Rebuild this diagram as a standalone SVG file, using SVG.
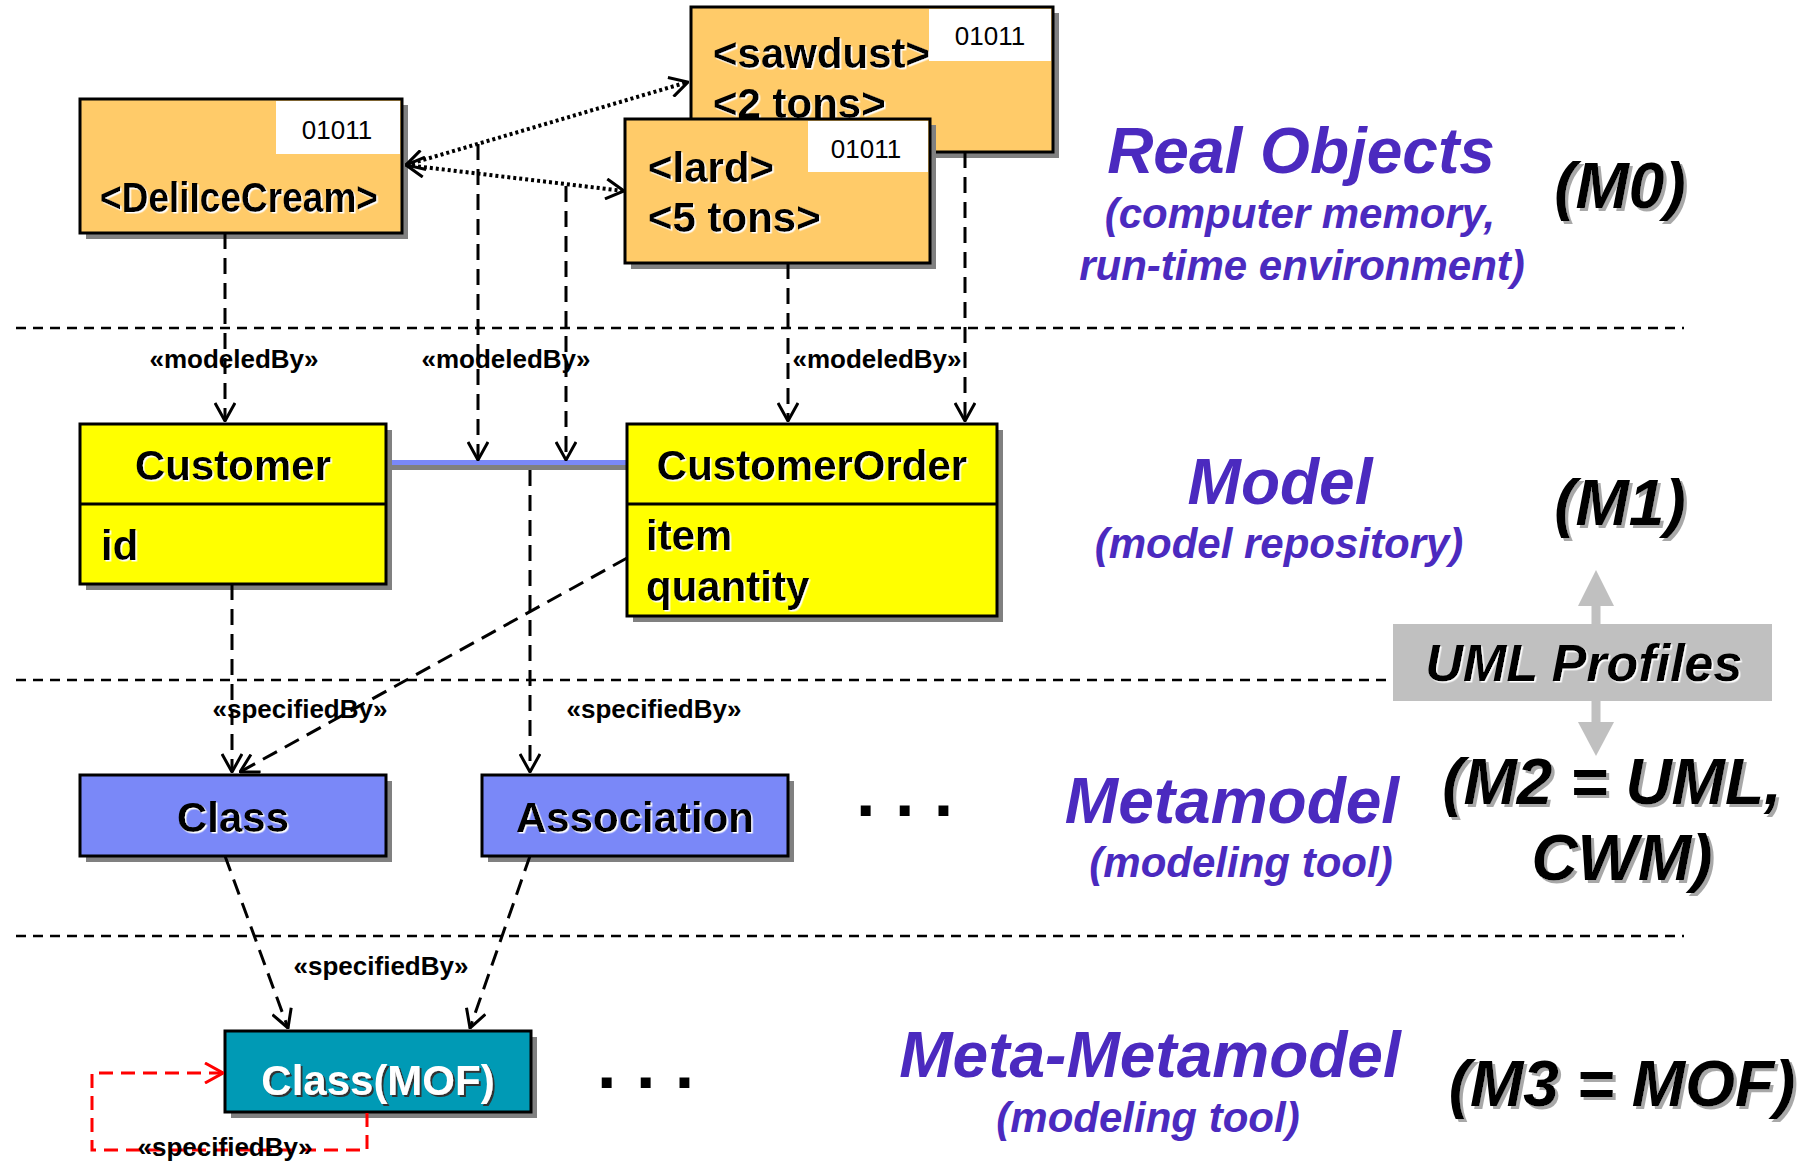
<svg xmlns="http://www.w3.org/2000/svg" width="1810" height="1162" viewBox="0 0 1810 1162">
<style>
  text { font-family: "Liberation Sans", Arial, sans-serif; }
  .b { font-weight: bold; }
  .lbl { font-weight: bold; font-size: 42px; fill: #000; filter: url(#ws); }
  .shadow { fill: #808080; }
  .box { stroke: #000; stroke-width: 3; }
  .orange { fill: #FFCB69; }
  .yellow { fill: #FFFF00; }
  .blue { fill: #7A88F8; }
  .teal { fill: #009AB5; }
  .code { fill: #fff; }
  .codet { font-size: 26px; fill: #000; }
  .ster { font-weight: bold; font-size: 26px; fill: #000; }
  .dash { fill: none; stroke: #000; stroke-width: 3; stroke-dasharray: 16 9; }
  .dot { fill: none; stroke: #000; stroke-width: 4; stroke-dasharray: 3 3; }
  .sep { fill: none; stroke: #000; stroke-width: 2.5; stroke-dasharray: 10 7; }
  .title { font-weight: bold; font-style: italic; font-size: 64px; fill: #4B2ABF; text-anchor: middle; }
  .sub { font-weight: bold; font-style: italic; font-size: 42px; fill: #4B2ABF; text-anchor: middle; }
  .lvl { font-weight: bold; font-style: italic; font-size: 64px; fill: #000; text-anchor: middle; filter: url(#gs); }
  .dots { font-weight: bold; font-size: 70px; fill: #000; }
</style>
<defs>
  <filter id="ws" x="-5%" y="-5%" width="110%" height="120%"><feDropShadow dx="1.5" dy="1.5" stdDeviation="0" flood-color="#ffffff"/></filter>
  <filter id="gs" x="-5%" y="-5%" width="115%" height="120%"><feDropShadow dx="3" dy="3" stdDeviation="0" flood-color="#a8a8a8"/></filter>
  <filter id="ds" x="-5%" y="-5%" width="110%" height="120%"><feDropShadow dx="2" dy="2" stdDeviation="0" flood-color="#333333"/></filter>
  <marker id="arr" viewBox="0 0 20 22" refX="19" refY="11" markerWidth="20" markerHeight="22" markerUnits="userSpaceOnUse" orient="auto-start-reverse">
    <path d="M1,1 L19,11 L1,21" fill="none" stroke="#000" stroke-width="3"/>
  </marker>
  <marker id="arrR" viewBox="0 0 20 22" refX="19" refY="11" markerWidth="20" markerHeight="22" markerUnits="userSpaceOnUse" orient="auto">
    <path d="M1,1 L19,11 L1,21" fill="none" stroke="#FF0000" stroke-width="3"/>
  </marker>
</defs>
<rect width="1810" height="1162" fill="#fff"/>

<!-- layer separators -->
<g id="separators">
  <line class="sep" x1="16" y1="328" x2="1684" y2="328"/>
  <line class="sep" x1="16" y1="680" x2="1395" y2="680"/>
  <line class="sep" x1="16" y1="936" x2="1684" y2="936"/>
</g>

<!-- UML Profiles -->
<g id="umlProfiles">
  <line x1="1596" y1="600" x2="1596" y2="728" stroke="#C0C0C0" stroke-width="9"/>
  <polygon points="1596,570 1614,606 1578,606" fill="#C0C0C0"/>
  <polygon points="1596,756 1614,722 1578,722" fill="#C0C0C0"/>
  <rect x="1393" y="624" width="379" height="77" fill="#C0C0C0"/>
  <text x="1584" y="681" text-anchor="middle" font-weight="bold" font-style="italic" font-size="52" fill="#000" filter="url(#ws)">UML Profiles</text>
</g>

<!-- M0 objects -->
<g id="sawdust">
  <rect class="shadow" x="697" y="13" width="362" height="145"/>
  <rect class="box orange" x="691" y="7" width="362" height="145"/>
  <rect class="code" x="929" y="9" width="122" height="52"/>
  <text class="codet" x="990" y="45" text-anchor="middle">01011</text>
  <text class="lbl" x="713" y="68">&lt;sawdust&gt;</text>
  <text class="lbl" x="713" y="118">&lt;2 tons&gt;</text>
</g>
<g id="deliIceCream">
  <rect class="shadow" x="86" y="105" width="322" height="134"/>
  <rect class="box orange" x="80" y="99" width="322" height="134"/>
  <rect class="code" x="276" y="101" width="124" height="53"/>
  <text class="codet" x="337" y="139" text-anchor="middle">01011</text>
  <text class="lbl" x="100" y="212" font-size="36" textLength="278" lengthAdjust="spacingAndGlyphs">&lt;DeliIceCream&gt;</text>
</g>
<g id="lard">
  <rect class="shadow" x="631" y="125" width="305" height="144"/>
  <rect class="box orange" x="625" y="119" width="305" height="144"/>
  <rect class="code" x="808" y="121" width="120" height="51"/>
  <text class="codet" x="866" y="158" text-anchor="middle">01011</text>
  <text class="lbl" x="648" y="182">&lt;lard&gt;</text>
  <text class="lbl" x="648" y="232">&lt;5 tons&gt;</text>
</g>

<!-- M1 -->
<g id="association">
  <rect class="shadow" x="390" y="465" width="241" height="5"/>
  <rect x="386" y="460" width="241" height="5" fill="#7A88F8"/>
</g>
<g id="customer">
  <rect class="shadow" x="86" y="430" width="306" height="160"/>
  <rect class="box yellow" x="80" y="424" width="306" height="160"/>
  <line x1="80" y1="504" x2="386" y2="504" stroke="#000" stroke-width="3"/>
  <text class="lbl" x="233" y="480" text-anchor="middle">Customer</text>
  <text class="lbl" x="101" y="560">id</text>
</g>
<g id="customerOrder">
  <rect class="shadow" x="633" y="430" width="370" height="192"/>
  <rect class="box yellow" x="627" y="424" width="370" height="192"/>
  <line x1="627" y1="504" x2="997" y2="504" stroke="#000" stroke-width="3"/>
  <text class="lbl" x="812" y="480" text-anchor="middle">CustomerOrder</text>
  <text class="lbl" x="646" y="550">item</text>
  <text class="lbl" x="646" y="601">quantity</text>
</g>

<!-- M2 -->
<g id="class">
  <rect class="shadow" x="86" y="781" width="306" height="81"/>
  <rect class="box blue" x="80" y="775" width="306" height="81"/>
  <text class="lbl" x="233" y="832" text-anchor="middle">Class</text>
</g>
<g id="associationMeta">
  <rect class="shadow" x="488" y="781" width="306" height="81"/>
  <rect class="box blue" x="482" y="775" width="306" height="81"/>
  <text class="lbl" x="635" y="832" text-anchor="middle">Association</text>
</g>
<text class="dots" x="856" y="816">. . .</text>

<!-- M3 -->
<g id="classMOF">
  <rect class="shadow" x="231" y="1037" width="306" height="81"/>
  <rect class="box teal" x="225" y="1031" width="306" height="81"/>
  <text x="378" y="1095" text-anchor="middle" font-weight="bold" font-size="42" fill="#fff" filter="url(#ds)">Class(MOF)</text>
</g>
<text class="dots" x="597" y="1088">. . .</text>

<!-- connectors -->
<g id="connectors">
  <path class="dot" d="M406,165 L688,82" marker-start="url(#arr)" marker-end="url(#arr)"/>
  <path class="dot" d="M406,165 L624,191" marker-start="url(#arr)" marker-end="url(#arr)"/>

  <path class="dash" d="M225,233 L225,421" marker-end="url(#arr)"/>
  <path class="dash" d="M478,144 L478,460" marker-end="url(#arr)"/>
  <path class="dash" d="M566,186 L566,460" marker-end="url(#arr)"/>
  <path class="dash" d="M788,263 L788,421" marker-end="url(#arr)"/>
  <path class="dash" d="M965,152 L965,421" marker-end="url(#arr)"/>

  <path class="dash" d="M232,584 L232,772" marker-end="url(#arr)"/>
  <path class="dash" d="M627,558 L240,772" marker-end="url(#arr)"/>
  <path class="dash" d="M530,470 L530,772" marker-end="url(#arr)"/>

  <path class="dash" d="M225,856 L288,1028" marker-end="url(#arr)"/>
  <path class="dash" d="M530,856 L470,1028" marker-end="url(#arr)"/>

  <path d="M367,1113 L367,1150 L92,1150 L92,1073 L223,1073" fill="none" stroke="#FF0000" stroke-width="3" stroke-dasharray="14 8" marker-end="url(#arrR)"/>

  <text class="ster" x="234" y="368" text-anchor="middle">«modeledBy»</text>
  <text class="ster" x="506" y="368" text-anchor="middle">«modeledBy»</text>
  <text class="ster" x="877" y="368" text-anchor="middle">«modeledBy»</text>
  <text class="ster" x="300" y="718" text-anchor="middle">«specifiedBy»</text>
  <text class="ster" x="654" y="718" text-anchor="middle">«specifiedBy»</text>
  <text class="ster" x="381" y="975" text-anchor="middle">«specifiedBy»</text>
  <text class="ster" x="225" y="1156" text-anchor="middle">«specifiedBy»</text>
</g>

<!-- level labels -->
<g id="levelM0">
  <text class="title" x="1301" y="173">Real Objects</text>
  <text class="sub" x="1300" y="228">(computer memory,</text>
  <text class="sub" x="1302" y="280">run-time environment)</text>
  <text class="lvl" x="1620" y="208">(M0)</text>
</g>
<g id="levelM1">
  <text class="title" x="1280" y="504">Model</text>
  <text class="sub" x="1279" y="558">(model repository)</text>
  <text class="lvl" x="1620" y="525">(M1)</text>
</g>
<g id="levelM2">
  <text class="title" x="1232" y="823">Metamodel</text>
  <text class="sub" x="1241" y="877">(modeling tool)</text>
  <text class="lvl" x="1612" y="804">(M2 = UML,</text>
  <text class="lvl" x="1622" y="880">CWM)</text>
</g>
<g id="levelM3">
  <text class="title" x="1150" y="1077">Meta-Metamodel</text>
  <text class="sub" x="1148" y="1132">(modeling tool)</text>
  <text class="lvl" x="1622" y="1106">(M3 = MOF)</text>
</g>
</svg>
